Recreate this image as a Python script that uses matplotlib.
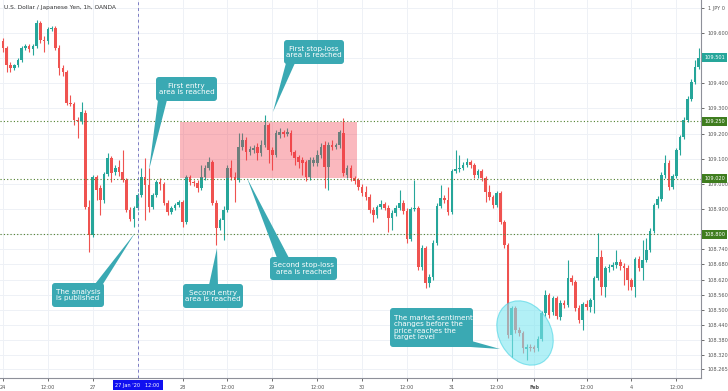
import numpy as np
import matplotlib.pyplot as plt
from matplotlib import transforms
from matplotlib.patches import Rectangle, Ellipse, FancyBboxPatch, Polygon

# USD/JPY 1h candles, 24 Jan 2020 00:00 -> 4 Feb 2020 18:00 (weekend removed)
opens = [109.568, 109.540, 109.473, 109.461, 109.473, 109.493, 109.540, 109.548, 109.536, 109.548,
         109.640, 109.572, 109.568, 109.616, 109.620, 109.540, 109.461, 109.445, 109.322, 109.318,
         109.254, 109.250, 109.282, 108.908, 108.797, 109.028, 108.984, 108.936, 109.040, 109.103,
         109.047, 109.067, 109.047, 109.016, 108.896, 108.861, 108.904, 108.956, 109.028, 108.996,
         108.908, 108.956, 109.008, 109.000, 108.924, 108.889, 108.904, 108.916, 108.928, 108.849,
         109.028, 109.008, 109.004, 108.984, 109.028, 109.063, 109.087, 108.924, 108.825, 108.857,
         108.896, 109.063, 109.028, 109.016, 109.147, 109.175, 109.127, 109.135, 109.147, 109.123,
         109.155, 109.234, 109.135, 109.115, 109.195, 109.206, 109.199, 109.202, 109.127, 109.107,
         109.095, 109.087, 109.028, 109.083, 109.083, 109.115, 109.155, 109.067, 109.155, 109.147,
         109.155, 109.202, 109.036, 109.063, 109.024, 109.016, 108.988, 108.968, 108.948, 108.896,
         108.877, 108.908, 108.920, 108.904, 108.865, 108.885, 108.904, 108.924, 108.893, 108.781,
         108.900, 108.904, 108.670, 108.745, 108.606, 108.630, 108.765, 108.912, 108.944, 108.936,
         108.889, 109.051, 109.059, 109.063, 109.075, 109.087, 109.075, 109.036, 109.051, 109.024,
         108.968, 108.948, 108.916, 108.964, 108.849, 108.757, 108.400, 108.507, 108.419, 108.407,
         108.344, 108.352, 108.352, 108.348, 108.384, 108.487, 108.559, 108.491, 108.547, 108.471,
         108.527, 108.519, 108.626, 108.610, 108.507, 108.459, 108.523, 108.511, 108.539, 108.626,
         108.710, 108.590, 108.666, 108.670, 108.678, 108.690, 108.674, 108.666, 108.618, 108.590,
         108.702, 108.666, 108.698, 108.737, 108.813, 108.916, 108.940, 109.036, 109.083, 108.988,
         109.032, 109.135, 109.187, 109.254, 109.338, 109.405, 109.465]
highs = [109.580, 109.548, 109.485, 109.477, 109.501, 109.548, 109.556, 109.556, 109.556, 109.652,
         109.648, 109.588, 109.624, 109.628, 109.628, 109.552, 109.473, 109.453, 109.354, 109.326,
         109.266, 109.326, 109.294, 108.936, 109.036, 109.036, 108.996, 109.047, 109.123, 109.111,
         109.075, 109.095, 109.135, 109.024, 108.908, 108.912, 108.964, 109.063, 109.103, 109.063,
         108.964, 109.016, 109.024, 109.008, 108.936, 108.912, 108.924, 108.936, 108.936, 109.036,
         109.036, 109.016, 109.016, 109.075, 109.075, 109.107, 109.095, 108.936, 108.865, 108.912,
         109.075, 109.095, 109.047, 109.202, 109.202, 109.187, 109.151, 109.155, 109.163, 109.175,
         109.274, 109.242, 109.147, 109.214, 109.222, 109.214, 109.222, 109.214, 109.135, 109.115,
         109.107, 109.095, 109.107, 109.107, 109.135, 109.163, 109.171, 109.167, 109.175, 109.163,
         109.214, 109.262, 109.075, 109.075, 109.032, 109.024, 109.000, 108.992, 108.960, 108.908,
         108.916, 108.936, 108.928, 108.916, 108.896, 108.916, 108.976, 108.936, 108.904, 108.908,
         109.016, 108.912, 108.757, 108.753, 108.642, 108.777, 108.924, 108.996, 108.956, 108.988,
         109.059, 109.135, 109.115, 109.087, 109.103, 109.095, 109.083, 109.059, 109.059, 109.032,
         108.996, 108.956, 108.972, 108.972, 108.857, 108.765, 108.515, 108.515, 108.431, 108.415,
         108.364, 108.364, 108.360, 108.396, 108.495, 108.578, 108.566, 108.555, 108.555, 108.539,
         108.539, 108.698, 108.638, 108.618, 108.519, 108.531, 108.539, 108.547, 108.634, 108.805,
         108.737, 108.674, 108.682, 108.690, 108.737, 108.702, 108.686, 108.678, 108.626, 108.710,
         108.714, 108.777, 108.785, 108.825, 108.924, 108.952, 109.047, 109.115, 109.095, 109.040,
         109.143, 109.195, 109.266, 109.350, 109.417, 109.493, 109.540]
lows = [109.524, 109.445, 109.445, 109.453, 109.465, 109.485, 109.532, 109.524, 109.513, 109.540,
        109.560, 109.524, 109.556, 109.608, 109.532, 109.433, 109.429, 109.314, 109.310, 109.234,
        109.183, 109.238, 108.900, 108.730, 108.789, 108.936, 108.877, 108.924, 109.032, 109.008,
        109.036, 109.032, 109.008, 108.889, 108.853, 108.829, 108.896, 108.948, 108.857, 108.889,
        108.900, 108.948, 108.976, 108.916, 108.877, 108.881, 108.896, 108.908, 108.829, 108.841,
        108.996, 108.992, 108.968, 108.976, 109.016, 109.055, 108.916, 108.757, 108.817, 108.777,
        108.889, 109.016, 108.928, 109.008, 109.135, 109.095, 109.115, 109.123, 109.095, 109.111,
        109.147, 109.083, 109.055, 109.107, 109.183, 109.187, 109.191, 109.115, 109.075, 109.063,
        109.036, 109.012, 109.016, 109.071, 109.071, 109.103, 108.984, 108.976, 109.135, 109.139,
        109.143, 109.032, 109.024, 109.012, 109.000, 108.976, 108.952, 108.936, 108.885, 108.849,
        108.865, 108.900, 108.896, 108.809, 108.817, 108.873, 108.896, 108.881, 108.765, 108.773,
        108.893, 108.658, 108.658, 108.586, 108.590, 108.618, 108.757, 108.904, 108.924, 108.877,
        108.881, 109.044, 109.047, 109.055, 109.067, 109.063, 109.024, 109.024, 109.012, 108.928,
        108.936, 108.904, 108.908, 108.841, 108.745, 108.388, 108.312, 108.407, 108.396, 108.328,
        108.300, 108.336, 108.332, 108.336, 108.376, 108.475, 108.467, 108.479, 108.463, 108.459,
        108.507, 108.511, 108.598, 108.495, 108.447, 108.419, 108.499, 108.491, 108.487, 108.618,
        108.559, 108.551, 108.650, 108.658, 108.666, 108.658, 108.598, 108.578, 108.578, 108.551,
        108.654, 108.618, 108.690, 108.730, 108.805, 108.904, 108.932, 109.024, 108.976, 108.980,
        109.024, 109.115, 109.179, 109.246, 109.330, 109.397, 109.457]
closes = [109.540, 109.473, 109.461, 109.473, 109.493, 109.540, 109.548, 109.536, 109.548, 109.640,
          109.572, 109.568, 109.616, 109.620, 109.540, 109.461, 109.445, 109.322, 109.318, 109.254,
          109.250, 109.286, 108.908, 108.797, 109.028, 108.976, 108.936, 109.040, 109.103, 109.044,
          109.063, 109.047, 109.016, 108.896, 108.861, 108.904, 108.956, 109.028, 108.996, 108.908,
          108.956, 109.008, 109.000, 108.924, 108.889, 108.904, 108.916, 108.928, 108.849, 109.028,
          109.008, 109.004, 108.984, 109.028, 109.063, 109.087, 108.924, 108.825, 108.857, 108.896,
          109.063, 109.028, 109.016, 109.147, 109.175, 109.127, 109.139, 109.143, 109.123, 109.155,
          109.234, 109.135, 109.115, 109.202, 109.206, 109.199, 109.206, 109.127, 109.103, 109.087,
          109.083, 109.028, 109.095, 109.095, 109.115, 109.147, 109.067, 109.155, 109.147, 109.155,
          109.206, 109.044, 109.063, 109.024, 109.012, 108.988, 108.964, 108.948, 108.896, 108.877,
          108.908, 108.920, 108.904, 108.865, 108.885, 108.904, 108.924, 108.893, 108.781, 108.900,
          108.904, 108.670, 108.745, 108.606, 108.630, 108.765, 108.912, 108.944, 108.936, 108.889,
          109.051, 109.059, 109.063, 109.075, 109.087, 109.075, 109.036, 109.051, 109.024, 108.968,
          108.948, 108.916, 108.964, 108.849, 108.757, 108.400, 108.507, 108.419, 108.407, 108.348,
          108.352, 108.348, 108.344, 108.384, 108.487, 108.559, 108.479, 108.547, 108.475, 108.527,
          108.519, 108.626, 108.610, 108.507, 108.459, 108.523, 108.511, 108.539, 108.626, 108.710,
          108.590, 108.666, 108.670, 108.678, 108.690, 108.674, 108.666, 108.618, 108.590, 108.702,
          108.666, 108.698, 108.737, 108.813, 108.916, 108.940, 109.036, 109.083, 108.988, 109.032,
          109.135, 109.187, 109.254, 109.338, 109.405, 109.465, 109.501]

time_ticks = [0, 12, 24, 48, 60, 72, 84, 96, 108, 120, 132, 142, 156, 168, 180]
time_labels = ['24', '12:00', '27', '28', '12:00', '29', '12:00', '30', '12:00',
               '31', '12:00', 'Feb', '12:00', '4', '12:00']
price_ticks = [109.700, 109.600, 109.500, 109.400, 109.300, 109.200, 109.100, 109.000,
               108.900, 108.800, 108.740, 108.680, 108.620, 108.560, 108.500, 108.440,
               108.380, 108.320, 108.265]
levels = [109.250, 109.020, 108.800]
last_price = 109.501
published_idx = 36
published_label = "27 Jan '20   12:00"
zone_start, zone_end = 47.3, 94.7
zone_low, zone_high = 109.024, 109.246

UP = '#26a69a'
DOWN = '#ef5350'
CALLOUT = '#3aa9b3'
SMALL = 3.6

fig = plt.figure(figsize=(7.28, 3.91), dpi=100)
ax = fig.add_axes([0, 13 / 391, 701 / 728, 378 / 391])
ax.set_xlim(-0.8, 186.6)
ax.set_ylim(108.229, 109.731)

# grid
for t in time_ticks + [published_idx]:
    ax.axvline(t, color='#eef1f6', lw=0.7, zorder=0)
for p in price_ticks:
    ax.axhline(p, color='#eef1f6', lw=0.7, zorder=0)

# candles
o = np.array(opens)
h = np.array(highs)
l = np.array(lows)
c = np.array(closes)
x = np.arange(len(o))
cols = np.where(c >= o, UP, DOWN)
ax.vlines(x, l, h, colors=cols, lw=0.8, zorder=2)
ax.bar(x, np.maximum(np.abs(c - o), 0.002), bottom=np.minimum(o, c), width=0.7,
       color=cols, linewidth=0, zorder=2)

# levels
for lv in levels:
    ax.axhline(lv, color='#4f7f2c', lw=0.8, ls=(0, (1, 2)), zorder=3)

# crosshair
ax.axvline(published_idx, color='#7d7dc4', lw=0.7, ls=(0, (3, 3)), zorder=3)

# stop-loss zone
ax.add_patch(Rectangle((zone_start, zone_low), zone_end - zone_start, zone_high - zone_low,
                       facecolor='#f23645', alpha=0.35, edgecolor='none', zorder=3))

# axes styling
for s in ['top', 'left']:
    ax.spines[s].set_visible(False)
for s in ['right', 'bottom']:
    ax.spines[s].set_color('#8e9099')
    ax.spines[s].set_linewidth(0.8)
ax.yaxis.tick_right()
ax.set_yticks(price_ticks)
# labels hidden behind the price boxes are left blank; the top one sits under the currency tag
ylabels = []
for p in price_ticks:
    if abs(p - 109.7) < 1e-6:
        ylabels.append('1 JPY 0')
    elif abs(p - last_price) < 0.005 or any(abs(p - lv) < 1e-6 for lv in levels):
        ylabels.append('')
    else:
        ylabels.append('%.3f' % p)
ax.set_yticklabels(ylabels)
ax.set_xticks(time_ticks)
ax.set_xticklabels(time_labels)
for lab in ax.get_xticklabels():
    if lab.get_text() == 'Feb':
        lab.set_fontweight('bold')
ax.tick_params(axis='both', labelsize=SMALL, colors='#555555', length=2, width=0.6, pad=3)

# right-axis price labels
yb = transforms.blended_transform_factory(ax.transAxes, ax.transData)
for lv in levels:
    ax.text(1.0045, lv, '%.3f' % lv, transform=yb, ha='left', va='center', fontsize=SMALL,
            color='white', bbox=dict(boxstyle='square,pad=0.4', fc='#3f7d1f', ec='none'),
            zorder=6, clip_on=False)
ax.text(1.0045, last_price, '%.3f' % last_price, transform=yb, ha='left', va='center',
        fontsize=SMALL, color='white', bbox=dict(boxstyle='square,pad=0.4', fc='#26a69a', ec='none'),
        zorder=6, clip_on=False)

# highlighted time label
xb = transforms.blended_transform_factory(ax.transData, ax.transAxes)
ax.text(published_idx, -0.019, published_label, transform=xb, ha='center', va='center',
        fontsize=SMALL, color='white', bbox=dict(boxstyle='square,pad=0.55', fc='#1010f0', ec='none'),
        zorder=6, clip_on=False)

# title
ax.text(0.006, 0.981, 'U.S. Dollar / Japanese Yen, 1h, OANDA', transform=ax.transAxes,
        fontsize=4.2, color='#333333', ha='left', va='center')

# annotations drawn in picture pixels
px = transforms.Affine2D().scale(1 / 728, -1 / 391).translate(0, 1) + fig.transFigure

ax.add_patch(Ellipse((525, 333), 68, 52, angle=60, transform=px, facecolor='#7fe6f0',
                     edgecolor='#45d3e3', lw=0.8, alpha=0.6, zorder=4))


def callout(x0, y0, w, hh, base, tip, text, align='center'):
    fig.patches.append(FancyBboxPatch((x0, y0), w, hh, boxstyle='round,pad=0,rounding_size=3',
                                      transform=px, fc=CALLOUT, ec='none', zorder=5))
    fig.patches.append(Polygon([base[0], base[1], tip], closed=True, transform=px,
                               fc=CALLOUT, ec='none', zorder=5))
    if align == 'center':
        fig.text(x0 + w / 2, y0 + hh / 2, text, transform=px, ha='center', va='center',
                 fontsize=5.2, color='white', linespacing=1.1, zorder=6)
    else:
        fig.text(x0 + 4, y0 + hh / 2, text, transform=px, ha='left', va='center',
                 fontsize=5.1, color='white', linespacing=1.05, zorder=6)


callout(156, 77, 61, 24, [(158, 100), (167, 100)], (149, 170), 'First entry\narea is reached')
callout(284, 40, 60, 24, [(286, 63), (295, 63)], (273, 112), 'First stop-loss\narea is reached')
callout(52, 283, 52, 24, [(95, 284), (103, 284)], (135, 233), 'The analysis\nis published')
callout(183, 284, 60, 24, [(209, 285), (218, 285)], (217, 248), 'Second entry\narea is reached')
callout(270, 257, 67, 23, [(277, 258), (289, 258)], (247, 178), 'Second stop-loss\narea is reached')
callout(390, 308, 83, 39, [(456, 346), (468, 340)], (500, 349),
        'The market sentiment\nchanges before the\nprice reaches the\ntarget level', align='left')

fig.savefig('out.png', dpi=100)
